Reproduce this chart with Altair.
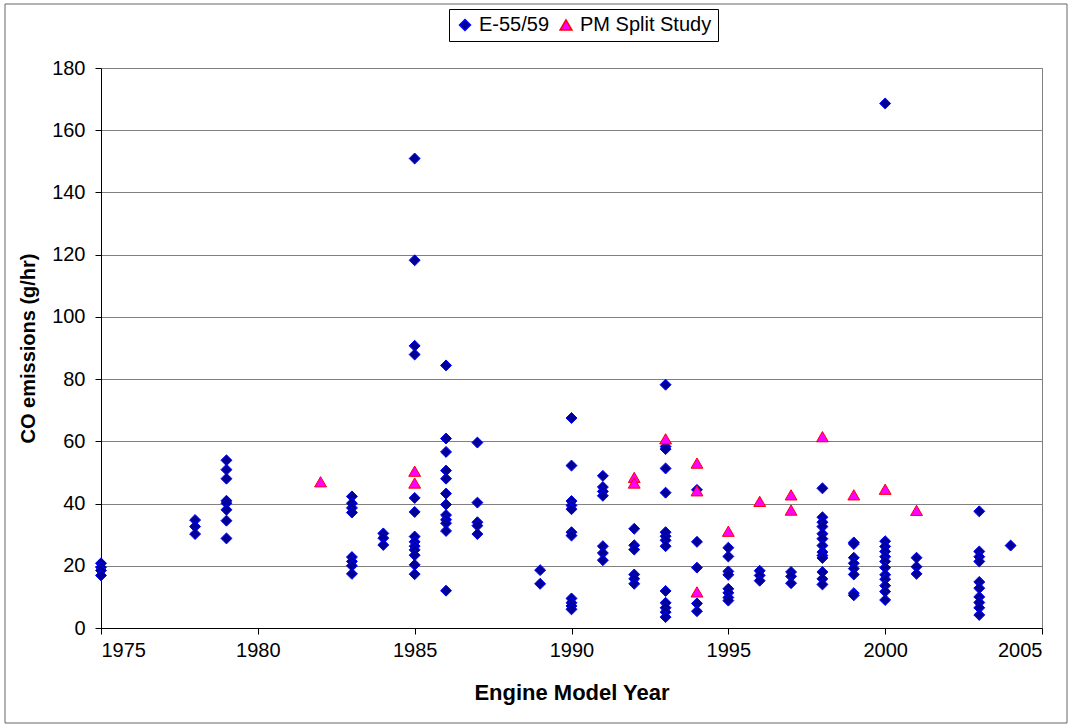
import altair as alt
import pandas as pd

# E-55/59 series: model year -> CO emissions (g/hr)
e_years = [1975, 1978, 1979, 1983, 1984, 1985, 1986, 1987, 1989, 1990, 1991, 1992,
           1993, 1994, 1995, 1996, 1997, 1998, 1999, 2000, 2001, 2003, 2004]
e_values = [
    [20.8, 19.5, 18.5, 16.9],
    [34.7, 32.6, 30.2],
    [53.9, 50.9, 48.0, 40.9, 40.1, 38.0, 34.5, 28.8],
    [42.3, 40.1, 38.6, 37.1, 22.8, 21.4, 20.0, 17.4],
    [30.4, 28.9, 26.7],
    [150.9, 118.2, 90.7, 87.9, 41.8, 37.3, 29.4, 27.7, 26.3, 25.1, 23.4, 20.3, 17.3],
    [84.4, 60.9, 56.6, 50.6, 48.0, 43.2, 39.7, 36.3, 34.8, 33.7, 31.2, 12.0],
    [59.6, 40.3, 34.0, 32.9, 30.2],
    [18.6, 14.2],
    [67.5, 52.2, 40.8, 39.4, 38.2, 30.8, 29.7, 9.5, 8.1, 7.1, 6.0],
    [48.9, 45.3, 43.9, 42.5, 26.3, 24.1, 21.8],
    [31.9, 26.6, 25.2, 17.2, 15.8, 14.2],
    [78.2, 58.3, 57.5, 51.3, 43.5, 30.8, 29.5, 28.2, 26.3, 11.9, 8.1, 6.5, 5.1, 3.5],
    [44.4, 27.7, 19.4, 7.9, 5.4],
    [25.8, 23.0, 18.2, 17.1, 12.6, 11.3, 9.8, 8.8],
    [18.4, 16.9, 15.2],
    [18.0, 16.6, 14.4],
    [44.9, 35.6, 34.0, 32.6, 30.3, 28.7, 26.5, 24.4, 23.3, 22.5, 18.0, 15.8, 14.0],
    [27.5, 27.0, 22.6, 20.8, 19.1, 17.2, 11.2, 10.5],
    [168.6, 27.9, 26.2, 24.6, 22.9, 21.4, 19.4, 17.1, 15.7, 13.6, 11.7, 9.0],
    [22.6, 19.7, 17.4],
    [37.5, 24.6, 22.9, 21.4, 14.8, 12.8, 10.0, 8.2, 6.5, 4.2],
    [26.5],
]

# PM Split Study series
pm_years = [1982, 1985, 1992, 1993, 1994, 1995, 1996, 1997, 1998, 1999, 2000, 2001]
pm_values = [
    [47.0],
    [50.4, 46.6],
    [48.4, 46.6],
    [60.8],
    [53.0, 44.1, 11.6],
    [31.1],
    [40.7],
    [42.8, 37.9],
    [61.5],
    [42.8],
    [44.6],
    [37.8],
]

series_names = ["E-55/59", "PM Split Study"]
x_ticks = [1975, 1980, 1985, 1990, 1995, 2000, 2005]
y_ticks = [0, 20, 40, 60, 80, 100, 120, 140, 160, 180]

rows = []
for yr, vals in zip(e_years, e_values):
    for v in vals:
        rows.append({"year": yr, "co": v, "series": series_names[0]})
for yr, vals in zip(pm_years, pm_values):
    for v in vals:
        rows.append({"year": yr, "co": v, "series": series_names[1]})
df = pd.DataFrame(rows)

FONT = "Liberation Sans"

points = alt.Chart(df).mark_point(filled=True, opacity=1, strokeWidth=1).encode(
    x=alt.X("year:Q",
            scale=alt.Scale(domain=[1975, 2005], nice=False, zero=False),
            axis=alt.Axis(values=x_ticks, format="d", title="Engine Model Year",
                          grid=False, domainColor="black", tickColor="black",
                          tickSize=6, labelPadding=6, titlePadding=22,
                          titleFontSize=22)),
    y=alt.Y("co:Q",
            scale=alt.Scale(domain=[0, 180], nice=False),
            axis=alt.Axis(values=y_ticks, title="CO emissions (g/hr)",
                          grid=True, gridColor="#808080", gridWidth=1,
                          domainColor="black", tickColor="black",
                          tickSize=6, labelPadding=10, titlePadding=13,
                          titleFontSize=20)),
    color=alt.Color("series:N",
                    scale=alt.Scale(domain=series_names, range=["#000099", "#FF00FF"]),
                    legend=alt.Legend(title=None, orient="none", direction="horizontal",
                                      legendX=348, legendY=-59,
                                      strokeColor="black", fillColor="white",
                                      padding=6, columnPadding=6, labelOffset=4,
                                      labelFontSize=20, labelFont=FONT,
                                      labelColor="black")),
    stroke=alt.Stroke("series:N",
                      scale=alt.Scale(domain=series_names, range=["#0000FF", "#FF0000"]),
                      legend=None),
    shape=alt.Shape("series:N",
                    scale=alt.Scale(domain=series_names, range=["diamond", "triangle-up"])),
    size=alt.Size("series:N",
                  scale=alt.Scale(domain=series_names, range=[120, 140]), legend=None),
)

border = alt.Chart(pd.DataFrame({"a": [0]})).mark_rect(
    fill=None, stroke="#666666", strokeWidth=1, clip=False
).encode(
    x=alt.value(-96), x2=alt.value(966), y=alt.value(-64), y2=alt.value(655)
)

chart = alt.layer(points, border).properties(
    width=941, height=560,
    autosize=alt.AutoSizeParams(type="none"),
    padding={"left": 101, "top": 68, "right": 30, "bottom": 97},
    background="white",
).configure_view(
    stroke="#808080", strokeWidth=1
).configure_axis(
    labelFont=FONT, titleFont=FONT, labelFontSize=20,
    labelColor="black", titleColor="black", titleFontWeight="bold"
)

chart.save("out.html", embed_options={"renderer": "svg", "actions": False})
